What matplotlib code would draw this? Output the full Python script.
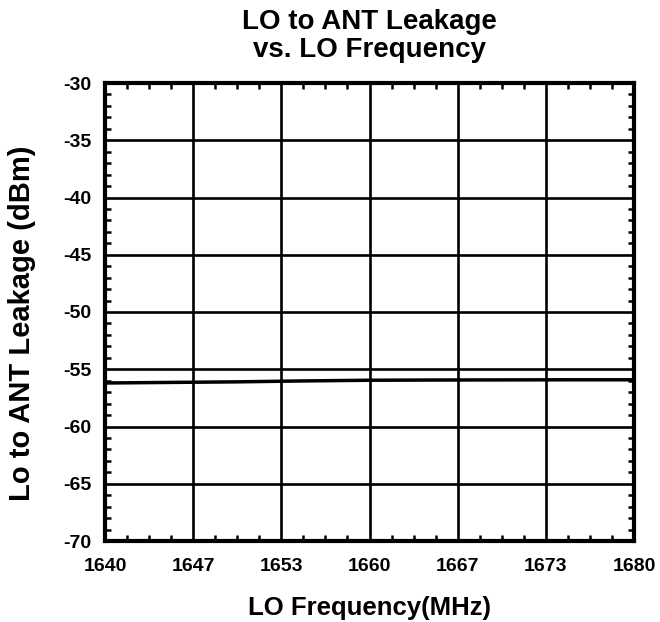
import matplotlib
matplotlib.use("Agg")
import matplotlib.pyplot as plt
from matplotlib.ticker import MultipleLocator, FixedLocator, AutoMinorLocator

plt.rcParams['font.family'] = ['Liberation Sans', 'DejaVu Sans']
plt.rcParams['font.weight'] = 'bold'
plt.rcParams['axes.unicode_minus'] = False

# Measured leakage across the LO band
freq_mhz = [1640, 1645, 1650, 1655, 1660, 1665, 1670, 1675, 1680]
leakage_dbm = [-56.2, -56.15, -56.1, -56.02, -55.96, -55.94, -55.93, -55.92, -55.92]

x_tick_pos = [1640, 1640 + 40/6, 1640 + 80/6, 1660, 1660 + 40/6, 1660 + 80/6, 1680]
x_tick_labels = ['1640', '1647', '1653', '1660', '1667', '1673', '1680']

fig = plt.figure(figsize=(6.6, 6.22), dpi=100)
ax = fig.add_axes([105/660, 1 - 541/622, (634-105)/660, (541-83)/622])

ax.plot(freq_mhz, leakage_dbm, color='black', lw=2.5, zorder=3)

ax.set_xlim(1640, 1680)
ax.set_ylim(-70, -30)
ax.xaxis.set_major_locator(FixedLocator(x_tick_pos))
ax.set_xticklabels(x_tick_labels)
ax.xaxis.set_minor_locator(AutoMinorLocator(4))
ax.yaxis.set_major_locator(MultipleLocator(5))
ax.yaxis.set_minor_locator(MultipleLocator(1))

ax.grid(True, which='major', color='black', lw=1.9)
ax.tick_params(which='both', direction='in', top=True, right=True,
               labelsize=14, width=1.8)
ax.tick_params(axis='y', which='major', length=0, pad=10)
ax.tick_params(axis='x', which='major', length=0, pad=12)
ax.tick_params(which='minor', length=4.5)
for s in ax.spines.values():
    s.set_linewidth(3.0)

ax.set_title('LO to ANT Leakage\nvs. LO Frequency', fontsize=20, fontweight='bold',
             pad=19, linespacing=1.1)
ax.set_xlabel('LO Frequency(MHz)', fontsize=18.5, fontweight='bold')
ax.xaxis.set_label_coords(0.5, -0.12)
ax.set_ylabel('Lo to ANT Leakage (dBm)', fontsize=21, fontweight='bold')
ax.yaxis.set_label_coords(-0.130, 0.476)

fig.savefig('out.png', dpi=100)
